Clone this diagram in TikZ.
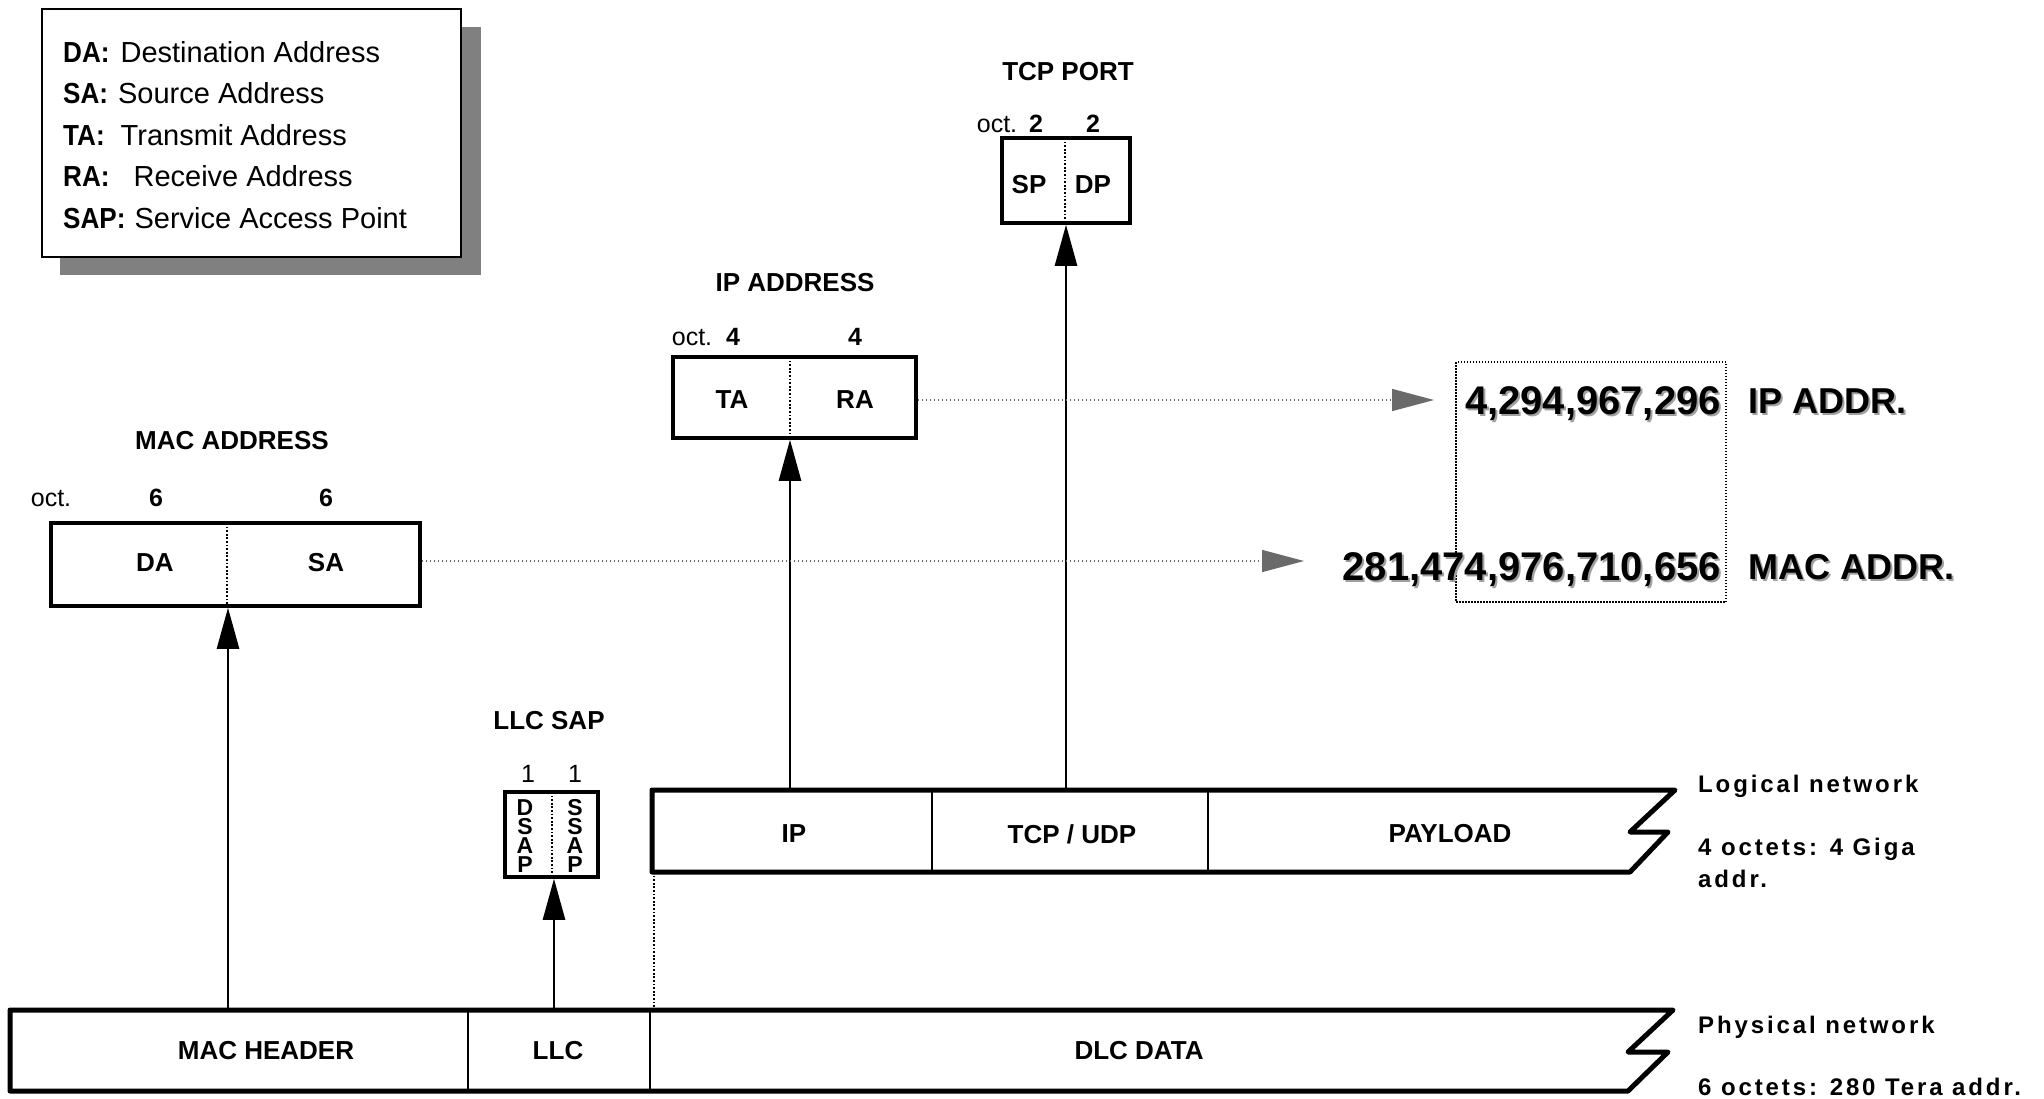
\documentclass[tikz,border=0pt]{standalone}
\usepackage{fontspec}
\usepackage{graphicx}
\setmainfont{Liberation Sans}
\newfontfamily\trackfont[LetterSpace=12]{Liberation Sans}
\usetikzlibrary{arrows.meta}
\definecolor{shadowgray}{HTML}{808080}
\definecolor{headgray}{HTML}{6A6A6A}
\definecolor{txtshade}{HTML}{A0A0A0}
\newcommand\legb[1]{\scalebox{0.9}[1]{\textbf{#1}}}
\begin{document}
\begin{tikzpicture}[x=1pt,y=-1pt,
  title/.style={font=\fontsize{26}{30}\selectfont\bfseries, inner sep=0pt},
  lbl/.style={font=\fontsize{26}{30}\selectfont\bfseries, inner sep=0pt},
  octtxt/.style={font=\fontsize{25}{30}\selectfont, inner sep=0pt, anchor=base},
  num/.style={font=\fontsize{25}{30}\selectfont\bfseries, inner sep=0pt, anchor=base},
  leg/.style={font=\fontsize{29}{32}\selectfont, inner sep=0pt, anchor=base west},
  fieldbox/.style={draw, line width=3.5pt, inner sep=0pt},
  divline/.style={line width=1.8pt, dash pattern=on 1.8pt off 1.8pt},
  framepath/.style={line width=5pt, line join=round},
  fdiv/.style={line width=2pt},
  upar/.style={line width=2.5pt, -{Triangle[length=41pt,width=22pt]}},
  dotar/.style={line width=1.5pt, headgray, dash pattern=on 1.5pt off 2.5pt, -{Triangle[length=42pt,width=22pt]}},
  side/.style={font=\trackfont\fontsize{24}{28}\selectfont\bfseries, inner sep=0pt, anchor=base west},
  sap/.style={font=\fontsize{23}{23}\selectfont\bfseries, inner sep=0pt, anchor=base},
  bignum/.style={font=\fontsize{40}{44}\selectfont\bfseries, inner sep=0pt},
  bigl/.style={font=\fontsize{36}{40}\selectfont\bfseries, inner sep=0pt}
]
\useasboundingbox (0,0) rectangle (2044,1098);

% ---------- legend ----------
\fill[shadowgray] (60,27) rectangle (481,275);
\node[draw, line width=2pt, fill=white, minimum width=419pt, minimum height=248pt, inner sep=0pt] (legend) at (251.5,133) {};
\node[leg] (l1) at (63,62)  {\legb{DA:}\hspace{11pt}Destination Address};
\node[leg] (l2) at (63,103.5) {\legb{SA:}\hspace{10pt}Source Address};
\node[leg] (l3) at (63,145) {\legb{TA:}\hspace{16pt}Transmit Address};
\node[leg] (l4) at (63,186.5) {\legb{RA:}\hspace{24pt}Receive Address};
\node[leg] (l5) at (63,228) {\legb{SAP:}\hspace{9pt}Service Access Point};

% ---------- MAC address box ----------
\node[title] (mactitle) at (232,441) {MAC ADDRESS};
\node[octtxt] (macoct) at (51,506) {oct.};
\node[num] (mac6a) at (156,506) {6};
\node[num] (mac6b) at (326,506) {6};
\node[fieldbox, minimum width=369pt, minimum height=83pt] (mac) at (235.5,564.5) {};
\draw[divline] (227,523) -- (227,606);
\node[lbl] (da) at (155,563) {DA};
\node[lbl] (sa) at (326,563) {SA};

% ---------- IP address box ----------
\node[title] (iptitle) at (795,283) {IP ADDRESS};
\node[octtxt] (ipoct) at (692,345) {oct.};
\node[num] (ip4a) at (733,345) {4};
\node[num] (ip4b) at (855,345) {4};
\node[fieldbox, minimum width=243pt, minimum height=81pt] (ipbox) at (794.5,397.5) {};
\draw[divline] (790,357) -- (790,438);
\node[lbl] (ta) at (732,400) {TA};
\node[lbl] (ra) at (855,400) {RA};

% ---------- TCP port box ----------
\node[title] (tcptitle) at (1068,72) {TCP PORT};
\node[octtxt] (tcpoct) at (997,132) {oct.};
\node[num] (tcp2a) at (1036,132) {2};
\node[num] (tcp2b) at (1093,132) {2};
\node[fieldbox, minimum width=128pt, minimum height=85pt] (tcp) at (1066,180.5) {};
\draw[divline] (1065,138) -- (1065,223);
\node[lbl] (sp) at (1029,185) {SP};
\node[lbl] (dp) at (1093,185) {DP};

% ---------- LLC SAP box ----------
\node[title] (llctitle) at (549,721) {LLC SAP};
\node[octtxt] (llc1a) at (528,782) {1};
\node[octtxt] (llc1b) at (575,782) {1};
\node[fieldbox, minimum width=93pt, minimum height=85pt] (llcsap) at (551.5,834.5) {};
\draw[divline] (552,792) -- (552,877);
\foreach \ch [count=\i from 0] in {D,S,A,P} {
  \node[sap] (ds\i) at (525,815+19.3*\i) {\ch};
}
\foreach \ch [count=\i from 0] in {S,S,A,P} {
  \node[sap] (ss\i) at (575,815+19.3*\i) {\ch};
}

% ---------- logical network frame ----------
\draw[framepath] (652,790) -- (1675,790) -- (1630,832) -- (1668,832) -- (1630,872) -- (652,872) -- cycle;
\draw[fdiv] (932,790) -- (932,872);
\draw[fdiv] (1208,790) -- (1208,872);
\node[lbl] (lip) at (794,834) {IP};
\node[lbl] (ltcp) at (1072,834) {TCP / UDP};
\node[lbl] (lpay) at (1450,834) {PAYLOAD};
\coordinate (lipbase) at (790,790);
\coordinate (ltcpbase) at (1066,790);
\coordinate (lcorner) at (654,872);

% ---------- physical network frame ----------
\draw[framepath] (10,1010) -- (1673,1010) -- (1628,1052) -- (1668,1052) -- (1628,1091) -- (10,1091) -- cycle;
\draw[fdiv] (468,1010) -- (468,1091);
\draw[fdiv] (650,1010) -- (650,1091);
\node[lbl] (pmac) at (266,1051) {MAC HEADER};
\node[lbl] (pllc) at (558,1051) {LLC};
\node[lbl] (pdlc) at (1139,1051) {DLC DATA};
\coordinate (pmacbase) at (228,1008);
\coordinate (pllcbase) at (554,1008);
\coordinate (pcorner) at (654,1008);

% ---------- side texts ----------
\node[side] (logn) at (1698,792) {Logical network};
\node[side] (logo) at (1698,855) {4 octets: 4 Giga};
\node[side] (loga) at (1698,887) {addr.};
\node[side] (phyn) at (1698,1033) {Physical network};
\node[side] (phyo) at (1698,1095) {6 octets: 280 Tera addr.};

% ---------- value box ----------
\draw[line width=1.5pt, dash pattern=on 1.5pt off 1.5pt] (1456,362) rectangle (1726,602);
\node[bignum, txtshade, anchor=base east] (ipnums) at (1723,416) {4,294,967,296};
\node[bignum, anchor=base east] (ipnum) at (1721,414) {4,294,967,296};
\node[bignum, txtshade, anchor=base east] (macnums) at (1723,582) {281,474,976,710,656};
\node[bignum, anchor=base east] (macnum) at (1721,580) {281,474,976,710,656};
\node[bigl, txtshade, anchor=base west] (ipls) at (1750,415) {IP ADDR.};
\node[bigl, anchor=base west] (ipl) at (1748,413) {IP ADDR.};
\node[bigl, txtshade, anchor=base west] (macls) at (1750,581) {MAC ADDR.};
\node[bigl, anchor=base west] (macl) at (1748,579) {MAC ADDR.};
\coordinate (iptip) at (1434,400);
\coordinate (mactip) at (1304,561);

% ---------- connectors ----------
\draw[upar] (pmacbase) -- (mac.south -| pmacbase);
\draw[upar] (pllcbase) -- (llcsap.south -| pllcbase);
\draw[upar] (lipbase) -- (ipbox.south -| lipbase);
\draw[upar] (ltcpbase) -- (tcp.south -| ltcpbase);
\draw[line width=1.8pt, dash pattern=on 1.8pt off 1.8pt] (lcorner) -- (pcorner);
\draw[dotar] (ipbox.east |- iptip) -- (iptip);
\draw[dotar] (mac.east |- mactip) -- (mactip);
\end{tikzpicture}
\end{document}
